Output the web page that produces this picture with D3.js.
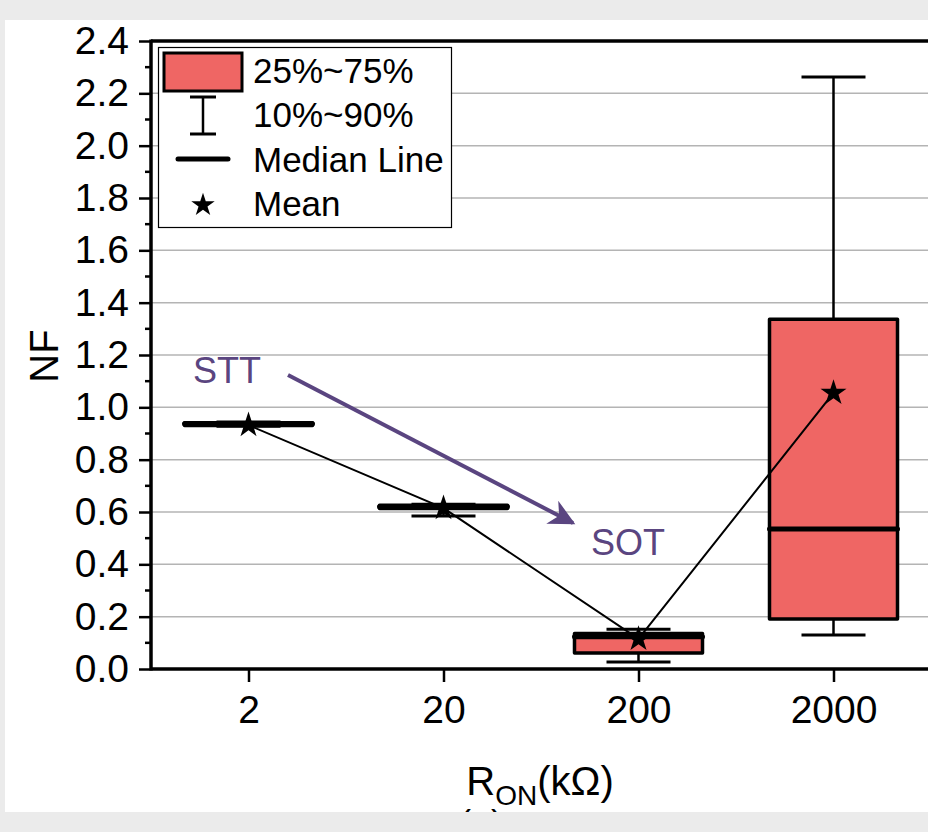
<!DOCTYPE html>
<html>
<head>
<meta charset="utf-8">
<script src="https://cdn.jsdelivr.net/npm/d3@7"></script>
<style>
  body { margin: 0; background: #ebebeb; }
  svg { display: block; font-family: "Liberation Sans", Arial, sans-serif; }
</style>
</head>
<body>
<svg id="chart" width="928" height="832"></svg>
<script>
// data
var categories = ["2", "20", "200", "2000"];
var p10 = [0.928, 0.585, 0.027, 0.13];
var q1 = [0.931, 0.613, 0.061, 0.191];
var median = [0.937, 0.620, 0.123, 0.535];
var q3 = [0.941, 0.626, 0.136, 1.337];
var p90 = [0.944, 0.630, 0.152, 2.262];
var means = [0.932, 0.615, 0.115, 1.055];
var yTicks = [0, 0.2, 0.4, 0.6, 0.8, 1.0, 1.2, 1.4, 1.6, 1.8, 2.0, 2.2, 2.4];
var legendLabels = ["25%~75%", "10%~90%", "Median Line", "Mean"];

var boxColor = "#ef6664";
var purple = "#5a4580";

var svg = d3.select("#chart");

// white panel
svg.append("defs").append("clipPath").attr("id", "panel")
  .append("rect").attr("x", 5).attr("y", 20).attr("width", 930).attr("height", 792);
svg.append("rect").attr("x", 5).attr("y", 20).attr("width", 930).attr("height", 792).attr("fill", "#fff");

var g = svg.append("g").attr("clip-path", "url(#panel)");

var x = d3.scalePoint().domain(categories).range([151, 931]).padding(0.5);
var y = d3.scaleLinear().domain([0, 2.4]).range([669, 41]);
var boxW = 128, capW = 64;

// grid
g.append("g").selectAll("line").data(yTicks.slice(1, -1)).join("line")
  .attr("x1", 151).attr("x2", 935)
  .attr("y1", d => y(d)).attr("y2", d => y(d))
  .attr("stroke", "#b4b4b4").attr("stroke-width", 1.5);

// y axis
var yAxis = g.append("g").attr("transform", "translate(151,0)")
  .call(d3.axisLeft(y).tickValues(yTicks).tickSize(12).tickPadding(10).tickFormat(d3.format(".1f")));
yAxis.select(".domain").remove();
yAxis.selectAll(".tick line").attr("stroke", "#000").attr("stroke-width", 2.5);
yAxis.selectAll("text").attr("font-size", 39).attr("fill", "#000").attr("font-family", "Liberation Sans, Arial, sans-serif");

var minor = d3.range(0.1, 2.4, 0.2);
g.append("g").selectAll("line").data(minor).join("line")
  .attr("x1", 145).attr("x2", 151)
  .attr("y1", d => y(d)).attr("y2", d => y(d))
  .attr("stroke", "#000").attr("stroke-width", 2.5);

// x axis
var xAxis = g.append("g").attr("transform", "translate(0,669)")
  .call(d3.axisBottom(x).tickSize(13).tickPadding(13));
xAxis.select(".domain").remove();
xAxis.selectAll(".tick line").attr("stroke", "#000").attr("stroke-width", 2.5);
xAxis.selectAll("text").attr("font-size", 39).attr("fill", "#000").attr("font-family", "Liberation Sans, Arial, sans-serif");

// frame lines
g.append("line").attr("x1", 151).attr("x2", 935).attr("y1", 669).attr("y2", 669).attr("stroke", "#000").attr("stroke-width", 3.5);
g.append("line").attr("x1", 151).attr("x2", 935).attr("y1", 41).attr("y2", 41).attr("stroke", "#000").attr("stroke-width", 3.5);
g.append("line").attr("x1", 151).attr("x2", 151).attr("y1", 39.5).attr("y2", 670.5).attr("stroke", "#000").attr("stroke-width", 3.5);

// boxes
var idx = d3.range(categories.length);
var boxes = g.append("g").selectAll("g").data(idx).join("g");
boxes.append("line")
  .attr("x1", i => x(categories[i])).attr("x2", i => x(categories[i]))
  .attr("y1", i => y(p90[i])).attr("y2", i => y(q3[i]))
  .attr("stroke", "#000").attr("stroke-width", 2.5);
boxes.append("line")
  .attr("x1", i => x(categories[i])).attr("x2", i => x(categories[i]))
  .attr("y1", i => y(q1[i])).attr("y2", i => y(p10[i]))
  .attr("stroke", "#000").attr("stroke-width", 2.5);
[p10, p90].forEach(function(arr) {
  boxes.append("line")
    .attr("x1", i => x(categories[i]) - capW / 2).attr("x2", i => x(categories[i]) + capW / 2)
    .attr("y1", i => y(arr[i])).attr("y2", i => y(arr[i]))
    .attr("stroke", "#000").attr("stroke-width", 3);
});
boxes.append("rect")
  .attr("x", i => x(categories[i]) - boxW / 2).attr("width", boxW)
  .attr("y", i => y(q3[i])).attr("height", i => y(q1[i]) - y(q3[i]))
  .attr("fill", boxColor).attr("stroke", "#000").attr("stroke-width", 3.5)
  .attr("stroke-linejoin", "round");
boxes.append("line")
  .attr("x1", i => x(categories[i]) - boxW / 2).attr("x2", i => x(categories[i]) + boxW / 2)
  .attr("y1", i => y(median[i])).attr("y2", i => y(median[i]))
  .attr("stroke", "#000").attr("stroke-width", 5).attr("stroke-linecap", "round");

// mean line and stars
var line = d3.line().x(i => x(categories[i])).y(i => y(means[i]));
g.append("path").attr("d", line(idx)).attr("fill", "none").attr("stroke", "#000").attr("stroke-width", 2);
var star = d3.symbol(d3.symbolStar, 210);
g.append("g").selectAll("path").data(idx).join("path")
  .attr("transform", i => "translate(" + x(categories[i]) + "," + y(means[i]) + ")")
  .attr("d", star).attr("fill", "#000");

// STT -> SOT annotation
svg.append("defs").append("marker").attr("id", "arrow")
  .attr("viewBox", "0 0 10 10").attr("refX", 9).attr("refY", 5)
  .attr("markerWidth", 8).attr("markerHeight", 6.5).attr("orient", "auto")
  .attr("markerUnits", "strokeWidth")
  .append("path").attr("d", "M0,0 L10,5 L0,10 L3,5 Z").attr("fill", purple);
g.append("line").attr("x1", 288).attr("y1", 375).attr("x2", 573).attr("y2", 523)
  .attr("stroke", purple).attr("stroke-width", 4).attr("marker-end", "url(#arrow)");
g.append("text").attr("x", 193).attr("y", 383).attr("font-size", 36).attr("fill", purple).text("STT");
g.append("text").attr("x", 591).attr("y", 555).attr("font-size", 36).attr("fill", purple).text("SOT");

// axis titles
g.append("text").attr("transform", "translate(58,356) rotate(-90)")
  .attr("text-anchor", "middle").attr("font-size", 40).text("NF");
var xt = g.append("text").attr("x", 540).attr("y", 795).attr("text-anchor", "middle").attr("font-size", 40);
xt.append("tspan").text("R");
xt.append("tspan").attr("font-size", 28).attr("dy", 10).text("ON");
xt.append("tspan").attr("dy", -10).text("(kΩ)");
g.append("text").attr("x", 481).attr("y", 836).attr("text-anchor", "middle").attr("font-size", 36).text("(a)");

// legend
var lg = g.append("g");
lg.append("rect").attr("x", 158.5).attr("y", 47.5).attr("width", 293).attr("height", 180)
  .attr("fill", "#fff").attr("stroke", "#000").attr("stroke-width", 1.2);
lg.append("rect").attr("x", 164).attr("y", 53).attr("width", 78).attr("height", 38)
  .attr("fill", boxColor).attr("stroke", "#000").attr("stroke-width", 3);
lg.append("line").attr("x1", 203).attr("x2", 203).attr("y1", 97).attr("y2", 134).attr("stroke", "#000").attr("stroke-width", 2.5);
lg.append("line").attr("x1", 190).attr("x2", 216).attr("y1", 97).attr("y2", 97).attr("stroke", "#000").attr("stroke-width", 3);
lg.append("line").attr("x1", 190).attr("x2", 216).attr("y1", 134).attr("y2", 134).attr("stroke", "#000").attr("stroke-width", 3);
lg.append("line").attr("x1", 178).attr("x2", 228).attr("y1", 159).attr("y2", 159).attr("stroke", "#000").attr("stroke-width", 5).attr("stroke-linecap", "round");
lg.append("path").attr("transform", "translate(203,205)").attr("d", d3.symbol(d3.symbolStar, 170)).attr("fill", "#000");
lg.selectAll("text.lab").data(legendLabels).join("text").attr("class", "lab")
  .attr("x", 253).attr("y", (d, i) => 83 + i * 44.3)
  .attr("font-size", 35).attr("fill", "#000").text(d => d);
</script>
</body>
</html>
